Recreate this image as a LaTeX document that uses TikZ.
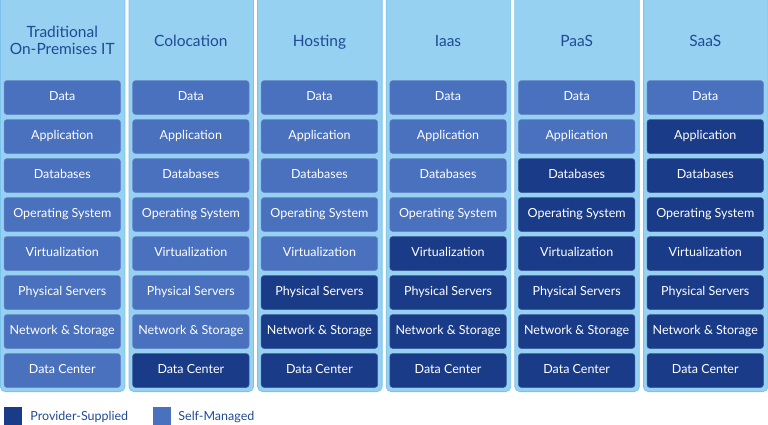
\documentclass[tikz,border=0pt]{standalone}
\usepackage{fontspec}
\setmainfont{Lato}
\usetikzlibrary{positioning}
\definecolor{panel}{HTML}{97D1F2}
\definecolor{paneledge}{HTML}{7CC2EC}
\definecolor{selfm}{HTML}{4A71BD}
\definecolor{prov}{HTML}{1A3C88}
\definecolor{head}{HTML}{1F4A94}
\tikzset{
  panelbox/.style={fill=panel, draw=paneledge, line width=0.8pt, rounded corners=5pt,
                   minimum width=124.5pt, minimum height=412pt, anchor=south west, inner sep=0pt},
  title/.style={text=head, align=center, font=\fontsize{15.5}{17}\selectfont},
  layer/.style={rounded corners=3pt, minimum width=116.5pt, minimum height=34pt, inner sep=0pt,
                text height=1.6ex, text depth=.35ex, text=white, font=\fontsize{12.5}{14}\selectfont},
  own/.style={layer, fill=selfm, draw=selfm!85!white, line width=0.5pt},
  provided/.style={layer, fill=prov, draw=prov!85!white, line width=0.5pt},
  keybox/.style={minimum width=18pt, minimum height=18pt, inner sep=0pt},
  keytext/.style={text=head, text height=1.6ex, text depth=.35ex, yshift=-1.5pt,
                  font=\fontsize{12.5}{15}\selectfont, inner sep=0pt},
}
\begin{document}
\begin{tikzpicture}[x=1pt, y=-1pt]
        \clip (0,0) rectangle (768,424);
        \foreach \t/\n [count=\i from 0] in {{Traditional\\On-Premises IT}/0, Colocation/1, Hosting/3, Iaas/4, PaaS/6, SaaS/7} {
          \node[panelbox] (p\i) at (128.6*\i, 392) {};
          \node[title] (t\i) at (128.6*\i+62.25, 42) {\t\vphantom{Tg}};
          \foreach \l [count=\k from 0] in {Data, Application, Databases, Operating System, Virtualization,
                                            Physical Servers, Network \& Storage, Data Center} {
            \ifnum\k<\numexpr8-\n\relax \def\kind{own}\else \def\kind{provided}\fi
            \node[\kind] (l\i-\k) at (128.6*\i+62.25, 97.5+39*\k) {\l};
          }
        }
        \node[keybox, fill=prov] (keyp) at (13, 416) {};
        \node[keytext, right=8pt of keyp] (keyptext) {Provider-Supplied};
        \node[keybox, fill=selfm] (keys) at (162, 416) {};
        \node[keytext, right=7pt of keys] (keystext) {Self-Managed};
      \end{tikzpicture}
\end{document}
